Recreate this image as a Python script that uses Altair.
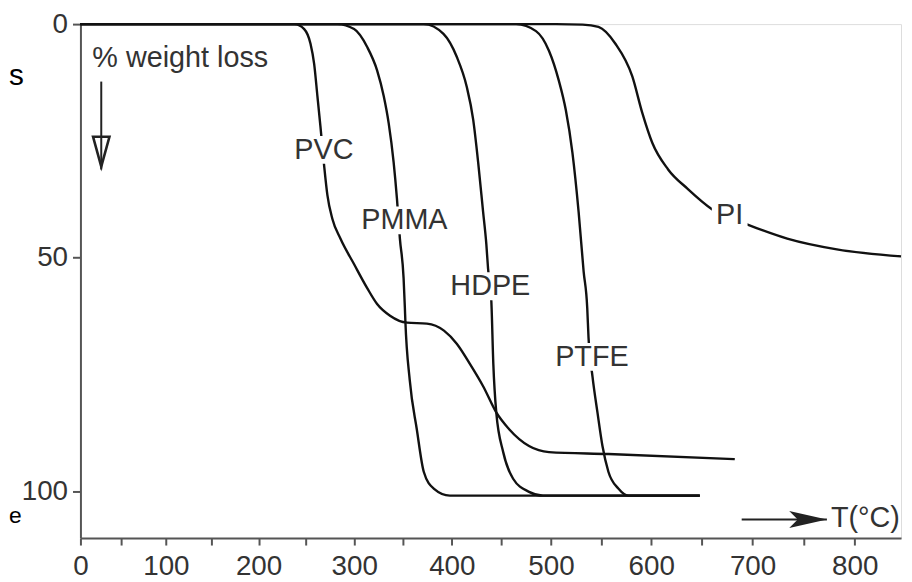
import altair as alt
import pandas as pd

FONT = "Liberation Sans"
LINE = "#111111"
TXT = "#333333"

# ---- curve data (temperature °C, % weight loss) ----
pvc_T = [0, 230, 238, 248, 254.6, 258.4, 261.8, 264.9, 268.8, 272.2, 277.4, 285.7, 299.9, 313.4,
         323.6, 336.9, 354.2, 374.6, 392, 405, 418, 432, 445, 458, 478, 498, 557.4, 682.5]
pvc_w = [0, 0, 0, 1.06, 4.2, 8.5, 15.4, 21.8, 30.3, 36.6, 41.7, 45.9, 51.4, 56.5,
         59.9, 62.4, 63.9, 64.1, 65.6, 68.4, 72.6, 77.6, 83.1, 86.7, 90.3, 91.6, 92.0, 93.1]

pmma_T = [0, 275, 282.6, 299.9, 313.4, 323.6, 330.4, 335.5, 340.6, 344, 347, 350.8, 352.1,
          352.6, 357.1, 364.3, 371.4, 381.6, 398, 648]
pmma_w = [0, 0, 0, 1.06, 4.9, 9.9, 15.4, 21.2, 29.6, 37.4, 45.9, 54.4, 60.7,
          63.5, 76.2, 86.7, 95.8, 99.4, 100.9, 100.9]

hdpe_T = [0, 360, 371.4, 391.5, 405, 415, 421.7, 426.7, 431.7, 435, 436.7, 440, 442, 445,
          452, 462, 478, 492, 648]
hdpe_w = [0, 0, 0, 2.1, 7.0, 13.3, 20.5, 29.6, 40.2, 47.2, 52.3, 59.2, 72.6, 83.1,
          91.6, 97.3, 100.1, 100.9, 100.9]

ptfe_T = [0, 455, 465, 485, 498, 507.9, 514.9, 521.5, 527.7, 532.7, 536.3, 537.6, 541.6,
          546.5, 551.5, 557.4, 567.3, 577.2, 648]
ptfe_w = [0, 0, 0, 1.5, 5.7, 12.1, 18.4, 27.5, 40.2, 52.9, 60.7, 67.1, 75.5,
          83.1, 90.3, 95.8, 99.4, 100.9, 100.9]

pi_T = [0, 505, 531.7, 547.5, 564.4, 581.2, 591.1, 601, 616.7, 636.3, 660, 695.1, 734, 782.5, 845]
pi_w = [0, 0, 0.1, 0.6, 4.2, 11.2, 19.0, 25.4, 31.1, 35.3, 39.6, 42.9, 45.9, 48.2, 49.7]

# ---- curve labels ----
label_names = ["PVC", "PMMA", "HDPE", "PTFE", "PI"]
label_T = [268.6, 351.6, 439, 541, 677.5]
label_w = [26.9, 42.0, 56.1, 71.2, 40.8]

x_ticks = list(range(0, 801, 50))
y_ticks = [0, 50, 100]

# style: white gap box behind each curve label (pixel width, height)
GAP_W = {"PVC": 64, "PMMA": 96, "HDPE": 90, "PTFE": 80, "PI": 36}
GAP_H = 28

rows = []
for name, ts, ws in [("PVC", pvc_T, pvc_w), ("PMMA", pmma_T, pmma_w), ("HDPE", hdpe_T, hdpe_w),
                     ("PTFE", ptfe_T, ptfe_w), ("PI", pi_T, pi_w)]:
    for t, w in zip(ts, ws):
        rows.append({"series": name, "T": t, "w": w})
curves = pd.DataFrame(rows)
labels = pd.DataFrame({"name": label_names, "T": label_T, "w": label_w})
labels["gapsize"] = [GAP_W[n] ** 2 for n in label_names]
labels["gapshape"] = ["M-1,-{a:.3f}L1,-{a:.3f}L1,{a:.3f}L-1,{a:.3f}Z".format(a=GAP_H / GAP_W[n])
                      for n in label_names]

x_enc = alt.X("T:Q",
              scale=alt.Scale(type="pow", exponent=1.06, domain=[0, 845], nice=False, zero=False),
              axis=alt.Axis(values=x_ticks, format="d",
                            labelExpr="datum.value % 100 == 0 ? datum.label : ''",
                            title=None, grid=False, tickSize=7, tickWidth=2, tickColor="#555",
                            domainColor="#555", domainWidth=2, labelPadding=8,
                            labelFont=FONT, labelFontSize=28, labelColor=TXT,
                            labelFlush=False, labelOverlap=False))
y_enc = alt.Y("w:Q",
              scale=alt.Scale(domain=[0, 110], reverse=True, nice=False, zero=False),
              axis=alt.Axis(values=y_ticks, title=None, grid=False, tickSize=8, tickWidth=2,
                            tickColor="#555", domainColor="#555", domainWidth=2, labelPadding=5,
                            labelFont=FONT, labelFontSize=28, labelColor=TXT, labelFlush=False))

lines = alt.Chart(curves).mark_line(interpolate="monotone", color=LINE, strokeWidth=2.4).encode(
    x=x_enc, y=y_enc, detail="series:N", order="T:Q")

gaps = alt.Chart(labels).mark_point(filled=True, color="white", opacity=1, strokeWidth=0).encode(
    x=x_enc, y=y_enc,
    size=alt.Size("gapsize:Q", scale=None, legend=None),
    shape=alt.Shape("gapshape:N", scale=None, legend=None))
ltext = alt.Chart(labels).mark_text(font=FONT, fontSize=29, color=TXT).encode(
    x=x_enc, y=y_enc, text="name:N")

# ---- annotations ----
ylab = alt.Chart(pd.DataFrame({"T": [15.6], "w": [9.1], "t": ["% weight loss"]})).mark_text(
    font=FONT, fontSize=29, color=TXT, align="left", baseline="alphabetic").encode(
    x=x_enc, y=y_enc, text="t:N")
varrow = alt.Chart(pd.DataFrame({"T": [26.4], "w": [12.3], "w2": [31.1]})).mark_rule(
    color="#222", strokeWidth=2).encode(x=x_enc, y=y_enc, y2="w2:Q")
vhead = alt.Chart(pd.DataFrame({"T": [26.4], "w": [27.3]})).mark_point(
    shape="M-0.55,-1L0.55,-1L0,1Z", size=900, filled=False, color="#222", strokeWidth=2.6,
    opacity=1).encode(x=x_enc, y=y_enc)

harrow = alt.Chart(pd.DataFrame({"T": [689.3], "T2": [772.8], "w": [106.0]})).mark_rule(
    color="#222", strokeWidth=2).encode(x=x_enc, x2="T2:Q", y=y_enc)
hhead = alt.Chart(pd.DataFrame({"T": [754.4], "w": [106.0]})).mark_point(
    shape="M-1,-0.45L1,0L-1,0.45L-0.55,0Z", size=1444, filled=True, color="#222",
    opacity=1).encode(x=x_enc, y=y_enc)
xlab = alt.Chart(pd.DataFrame({"T": [776.7], "w": [105.8], "t": ["T(°C)"]})).mark_text(
    font=FONT, fontSize=29, color=TXT, align="left", baseline="middle").encode(
    x=x_enc, y=y_enc, text="t:N")

frag_s = alt.Chart(pd.DataFrame({"t": ["s"]})).mark_text(
    font=FONT, fontSize=30, color="#000", align="left", baseline="alphabetic").encode(
    x=alt.value(-72), y=alt.value(61), text="t:N")
frag_e = alt.Chart(pd.DataFrame({"t": ["e"]})).mark_text(
    font=FONT, fontSize=23, color="#000", align="left", baseline="alphabetic").encode(
    x=alt.value(-72), y=alt.value(503), text="t:N")

chart = alt.layer(lines, gaps, ltext, ylab, varrow, vhead, harrow, hhead, xlab, frag_s, frag_e).properties(
    width=827, height=518,
    autosize=alt.AutoSizeParams(type="none"),
    padding={"left": 73, "top": 14, "right": 3, "bottom": 40},
).configure_view(stroke=None).configure(background="white")

chart.save("out.html", embed_options={"renderer": "svg", "actions": False})
